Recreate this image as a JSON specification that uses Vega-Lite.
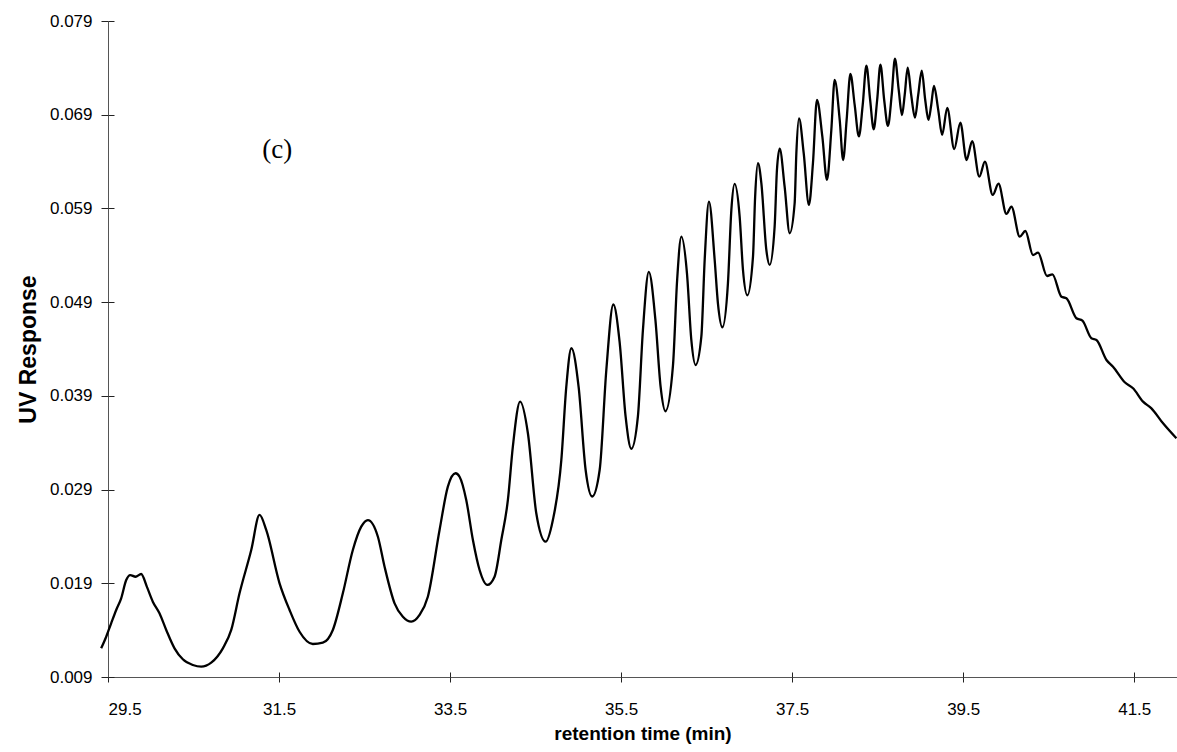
{
  "$schema": "https://vega.github.io/schema/vega-lite/v6.json",
  "autosize": {"type": "none"},
  "padding": {"left": 108, "top": 21, "right": 0, "bottom": 75},
  "width": 1069,
  "height": 656,
  "background": "white",
  "config": {"view": {"stroke": null}, "font": "Liberation Sans"},
  "datasets": {
    "curve": [
      {"t": 29.420, "uv": 0.01206}, {"t": 29.479, "uv": 0.01330}, {"t": 29.537, "uv": 0.01473}, {"t": 29.596, "uv": 0.01615},
      {"t": 29.654, "uv": 0.01740}, {"t": 29.713, "uv": 0.01935}, {"t": 29.760, "uv": 0.01988}, {"t": 29.822, "uv": 0.01970},
      {"t": 29.888, "uv": 0.01999}, {"t": 29.954, "uv": 0.01864}, {"t": 30.024, "uv": 0.01704}, {"t": 30.102, "uv": 0.01580},
      {"t": 30.181, "uv": 0.01402}, {"t": 30.278, "uv": 0.01206}, {"t": 30.375, "uv": 0.01089}, {"t": 30.492, "uv": 0.01028},
      {"t": 30.590, "uv": 0.01010}, {"t": 30.707, "uv": 0.01053}, {"t": 30.843, "uv": 0.01206}, {"t": 30.941, "uv": 0.01402},
      {"t": 31.038, "uv": 0.01793}, {"t": 31.175, "uv": 0.02255}, {"t": 31.272, "uv": 0.02629}, {"t": 31.350, "uv": 0.02469},
      {"t": 31.506, "uv": 0.01900}, {"t": 31.623, "uv": 0.01615}, {"t": 31.740, "uv": 0.01383}, {"t": 31.895, "uv": 0.01252},
      {"t": 32.012, "uv": 0.01266}, {"t": 32.129, "uv": 0.01402}, {"t": 32.246, "uv": 0.01793}, {"t": 32.363, "uv": 0.02255},
      {"t": 32.461, "uv": 0.02504}, {"t": 32.539, "uv": 0.02575}, {"t": 32.656, "uv": 0.02397}, {"t": 32.734, "uv": 0.02077},
      {"t": 32.851, "uv": 0.01686}, {"t": 32.948, "uv": 0.01543}, {"t": 33.046, "uv": 0.01490}, {"t": 33.143, "uv": 0.01562},
      {"t": 33.240, "uv": 0.01757}, {"t": 33.377, "uv": 0.02469}, {"t": 33.474, "uv": 0.02931}, {"t": 33.564, "uv": 0.03074},
      {"t": 33.611, "uv": 0.03037}, {"t": 33.689, "uv": 0.02789}, {"t": 33.767, "uv": 0.02362}, {"t": 33.845, "uv": 0.02042},
      {"t": 33.935, "uv": 0.01882}, {"t": 34.020, "uv": 0.01970}, {"t": 34.099, "uv": 0.02362}, {"t": 34.176, "uv": 0.02789},
      {"t": 34.234, "uv": 0.03358}, {"t": 34.319, "uv": 0.03838}, {"t": 34.410, "uv": 0.03501}, {"t": 34.508, "uv": 0.02647},
      {"t": 34.617, "uv": 0.02344}, {"t": 34.702, "uv": 0.02575}, {"t": 34.801, "uv": 0.03216}, {"t": 34.859, "uv": 0.03998},
      {"t": 34.918, "uv": 0.04408}, {"t": 35.003, "uv": 0.03995}, {"t": 35.085, "uv": 0.03109}, {"t": 35.161, "uv": 0.02826},
      {"t": 35.249, "uv": 0.03109}, {"t": 35.327, "uv": 0.04176}, {"t": 35.409, "uv": 0.04875}, {"t": 35.482, "uv": 0.04480},
      {"t": 35.553, "uv": 0.03675}, {"t": 35.619, "uv": 0.03335}, {"t": 35.696, "uv": 0.03678}, {"t": 35.755, "uv": 0.04603},
      {"t": 35.824, "uv": 0.05222}, {"t": 35.901, "uv": 0.04710}, {"t": 35.962, "uv": 0.03995}, {"t": 36.018, "uv": 0.03736},
      {"t": 36.106, "uv": 0.04219}, {"t": 36.155, "uv": 0.05136}, {"t": 36.204, "uv": 0.05599}, {"t": 36.270, "uv": 0.05208},
      {"t": 36.321, "uv": 0.04496}, {"t": 36.371, "uv": 0.04229}, {"t": 36.438, "uv": 0.04531}, {"t": 36.477, "uv": 0.05350},
      {"t": 36.527, "uv": 0.05972}, {"t": 36.594, "uv": 0.05350}, {"t": 36.632, "uv": 0.04888}, {"t": 36.684, "uv": 0.04632},
      {"t": 36.749, "uv": 0.05101}, {"t": 36.789, "uv": 0.05883}, {"t": 36.827, "uv": 0.06161}, {"t": 36.886, "uv": 0.05812},
      {"t": 36.925, "uv": 0.05243}, {"t": 36.976, "uv": 0.04973}, {"t": 37.042, "uv": 0.05385}, {"t": 37.067, "uv": 0.06025},
      {"t": 37.100, "uv": 0.06382}, {"t": 37.140, "uv": 0.06168}, {"t": 37.198, "uv": 0.05457}, {"t": 37.237, "uv": 0.05297},
      {"t": 37.295, "uv": 0.05705}, {"t": 37.322, "uv": 0.06310}, {"t": 37.354, "uv": 0.06538}, {"t": 37.412, "uv": 0.06132},
      {"t": 37.471, "uv": 0.05635}, {"t": 37.529, "uv": 0.05955}, {"t": 37.549, "uv": 0.06489}, {"t": 37.580, "uv": 0.06862},
      {"t": 37.635, "uv": 0.06489}, {"t": 37.696, "uv": 0.05937}, {"t": 37.743, "uv": 0.06382}, {"t": 37.790, "uv": 0.07057},
      {"t": 37.853, "uv": 0.06666}, {"t": 37.907, "uv": 0.06204}, {"t": 37.958, "uv": 0.06737}, {"t": 37.997, "uv": 0.07271},
      {"t": 38.056, "uv": 0.06844}, {"t": 38.096, "uv": 0.06417}, {"t": 38.137, "uv": 0.06844}, {"t": 38.181, "uv": 0.07335},
      {"t": 38.231, "uv": 0.07004}, {"t": 38.280, "uv": 0.06668}, {"t": 38.325, "uv": 0.07004}, {"t": 38.368, "uv": 0.07423},
      {"t": 38.412, "uv": 0.07057}, {"t": 38.453, "uv": 0.06745}, {"t": 38.494, "uv": 0.07057}, {"t": 38.532, "uv": 0.07434},
      {"t": 38.576, "uv": 0.07057}, {"t": 38.620, "uv": 0.06780}, {"t": 38.664, "uv": 0.07111}, {"t": 38.702, "uv": 0.07498},
      {"t": 38.746, "uv": 0.07164}, {"t": 38.784, "uv": 0.06897}, {"t": 38.816, "uv": 0.07111}, {"t": 38.851, "uv": 0.07402},
      {"t": 38.892, "uv": 0.07111}, {"t": 38.936, "uv": 0.06868}, {"t": 38.974, "uv": 0.07111}, {"t": 39.015, "uv": 0.07370},
      {"t": 39.056, "uv": 0.07057}, {"t": 39.094, "uv": 0.06844}, {"t": 39.126, "uv": 0.07004}, {"t": 39.158, "uv": 0.07207},
      {"t": 39.208, "uv": 0.06951}, {"t": 39.254, "uv": 0.06684}, {"t": 39.313, "uv": 0.06972}, {"t": 39.395, "uv": 0.06534},
      {"t": 39.467, "uv": 0.06815}, {"t": 39.539, "uv": 0.06417}, {"t": 39.605, "uv": 0.06618}, {"t": 39.688, "uv": 0.06239},
      {"t": 39.754, "uv": 0.06399}, {"t": 39.845, "uv": 0.06044}, {"t": 39.913, "uv": 0.06164}, {"t": 40.005, "uv": 0.05841},
      {"t": 40.064, "uv": 0.05919}, {"t": 40.161, "uv": 0.05599}, {"t": 40.227, "uv": 0.05659}, {"t": 40.316, "uv": 0.05403},
      {"t": 40.375, "uv": 0.05428}, {"t": 40.480, "uv": 0.05179}, {"t": 40.543, "uv": 0.05197}, {"t": 40.649, "uv": 0.04958},
      {"t": 40.707, "uv": 0.04941}, {"t": 40.824, "uv": 0.04728}, {"t": 40.894, "uv": 0.04702}, {"t": 40.999, "uv": 0.04514},
      {"t": 41.058, "uv": 0.04496}, {"t": 41.175, "uv": 0.04283}, {"t": 41.252, "uv": 0.04211}, {"t": 41.389, "uv": 0.04045},
      {"t": 41.486, "uv": 0.03981}, {"t": 41.603, "uv": 0.03838}, {"t": 41.701, "uv": 0.03767}, {"t": 41.837, "uv": 0.03607},
      {"t": 41.993, "uv": 0.03447}
    ],
    "note": [
      {"label": "(c)", "t": 31.48, "uv": 0.0652}
    ]
  },
  "layer": [
    {
      "data": {"name": "curve"},
      "mark": {"type": "line", "color": "black", "strokeWidth": 2.3, "interpolate": "monotone", "clip": false},
      "encoding": {
        "x": {
          "field": "t", "type": "quantitative",
          "scale": {"domain": [29.5, 42.0], "nice": false, "zero": false},
          "axis": {
            "title": "retention time (min)",
            "values": [29.5, 31.5, 33.5, 35.5, 37.5, 39.5, 41.5],
            "format": ".1f",
            "grid": false,
            "domainColor": "#555555", "domainWidth": 1,
            "tickColor": "#222222", "tickSize": 5, "tickWidth": 1,
            "labelFont": "Liberation Sans", "labelFontSize": 17, "labelColor": "black", "labelPadding": 19,
            "titleFont": "Liberation Sans", "titleFontSize": 19, "titleFontWeight": "bold", "titleColor": "black", "titlePadding": 7
          }
        },
        "y": {
          "field": "uv", "type": "quantitative",
          "scale": {"domain": [0.009, 0.079], "nice": false, "zero": false},
          "axis": {
            "title": "UV Response",
            "values": [0.009, 0.019, 0.029, 0.039, 0.049, 0.059, 0.069, 0.079],
            "format": ".3f",
            "grid": false,
            "domainColor": "#555555", "domainWidth": 1,
            "tickColor": "#222222", "tickSize": 7, "tickWidth": 1,
            "labelFont": "Liberation Sans", "labelFontSize": 17, "labelColor": "black", "labelPadding": 9,
            "titleFont": "Liberation Sans", "titleFontSize": 23, "titleFontWeight": "bold", "titleColor": "black", "titlePadding": 9
          }
        }
      }
    },
    {
      "data": {"name": "curve"},
      "mark": {"type": "line", "strokeOpacity": 0},
      "encoding": {
        "x": {
          "field": "t", "type": "quantitative",
          "axis": {"orient": "bottom", "title": null, "labels": false, "domain": false, "grid": false,
                   "values": [29.5, 31.5, 33.5, 35.5, 37.5, 39.5, 41.5],
                   "tickColor": "#222222", "tickSize": -5, "tickWidth": 1}
        },
        "y": {
          "field": "uv", "type": "quantitative",
          "axis": {"orient": "left", "title": null, "labels": false, "domain": false, "grid": false,
                   "values": [0.009, 0.019, 0.029, 0.039, 0.049, 0.059, 0.069, 0.079],
                   "tickColor": "#222222", "tickSize": -6, "tickWidth": 1}
        }
      }
    },
    {
      "data": {"name": "note"},
      "mark": {"type": "text", "font": "Liberation Serif", "fontSize": 27, "color": "black", "align": "center", "baseline": "middle"},
      "encoding": {
        "x": {"field": "t", "type": "quantitative", "axis": null},
        "y": {"field": "uv", "type": "quantitative", "axis": null},
        "text": {"field": "label", "type": "nominal"}
      }
    }
  ],
  "resolve": {"axis": {"x": "independent", "y": "independent"}}
}
